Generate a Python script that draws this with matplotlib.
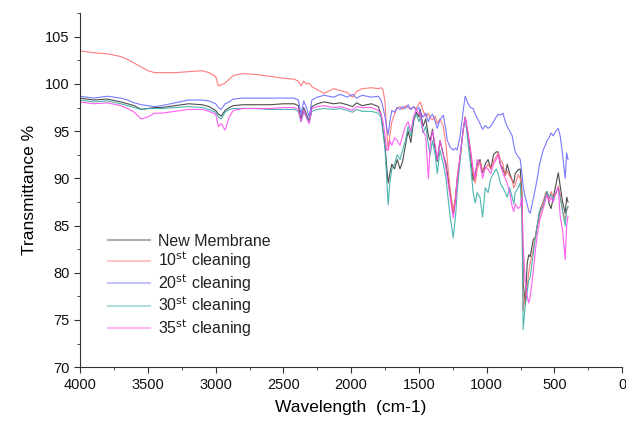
import matplotlib
matplotlib.use("Agg")
import matplotlib.pyplot as plt
from matplotlib.ticker import MultipleLocator

plt.rcParams['font.family'] = ['Liberation Sans', 'DejaVu Sans']

wavenumber = [
    4000, 3900, 3800, 3700, 3650, 3600, 3550, 3500, 3450, 3400,
    3300, 3200, 3100, 3050, 3000, 2980, 2960, 2930, 2900, 2870,
    2800, 2700, 2600, 2500, 2420, 2390, 2370, 2350, 2330, 2310,
    2290, 2250, 2200, 2130, 2080, 2030, 1990, 1960, 1920, 1850,
    1800, 1780, 1765, 1750, 1740, 1727, 1715, 1700, 1680, 1660,
    1640, 1620, 1600, 1580, 1560, 1540, 1520, 1500, 1490, 1470,
    1450, 1430, 1417, 1400, 1380, 1365, 1345, 1320, 1300, 1290,
    1270, 1247, 1230, 1218, 1196, 1175, 1159, 1140, 1120, 1100,
    1085, 1070, 1050, 1030, 1011, 990, 970, 950, 930, 915,
    900, 880, 863, 849, 830, 812, 800, 790, 768, 753,
    740, 731, 716, 701, 690, 679, 657, 640, 627, 610,
    583, 565, 554, 540, 525, 509, 490, 472, 458, 440,
    421, 410, 400]

new_membrane = [
    98.5, 98.3, 98.4, 98.1, 97.9, 97.7, 97.3, 97.4, 97.5, 97.5,
    97.7, 97.9, 97.8, 97.6, 97.2, 96.8, 96.6, 97.2, 97.5, 97.7,
    97.8, 97.8, 97.8, 97.9, 97.9, 97.7, 96.3, 97.5, 96.8, 96.0,
    97.6, 97.9, 98.1, 97.9, 98.0, 97.8, 97.6, 98.0, 97.7, 97.9,
    97.6, 96.8, 95.0, 93.5, 91.5, 89.5, 90.5, 91.5, 91.0, 92.0,
    91.0, 91.8, 93.5, 95.0, 93.8, 96.0, 97.0, 96.5, 97.3, 95.5,
    96.3, 94.5, 94.0, 95.2, 93.0, 91.8, 94.0, 92.5, 91.5, 90.5,
    88.5, 86.3, 88.0, 90.0, 92.3, 95.0, 96.5, 94.8, 92.5, 89.8,
    90.5, 91.5, 92.0, 90.6, 91.5, 92.0, 91.0, 92.5, 92.8, 92.8,
    91.5, 91.0, 90.3, 91.5, 90.5, 89.8, 89.5, 90.5, 90.9, 91.0,
    88.5, 79.0, 76.8, 81.0, 81.9, 81.7, 83.5, 83.8, 85.0, 86.5,
    87.5, 88.2, 88.6, 87.3, 86.8, 88.0, 89.3, 90.6, 89.2, 87.5,
    86.3, 88.0, 87.5]

cleaning_10 = [
    103.5, 103.3, 103.2, 102.9, 102.6, 102.2, 101.8, 101.4, 101.2, 101.2,
    101.2, 101.3, 101.4, 101.2, 100.8, 99.8, 99.9, 100.1, 100.5, 100.9,
    101.1, 101.0, 100.8, 100.6, 100.5, 100.3, 99.8, 100.3, 100.0, 100.1,
    99.7, 99.4, 99.0, 99.5, 99.3, 99.1, 98.6, 99.2, 99.5, 99.6,
    99.5, 99.6, 99.4, 98.0, 95.5, 93.0, 94.5, 96.0, 96.8, 97.5,
    97.6, 97.3, 97.7, 97.5, 97.3, 97.6, 97.4, 97.9, 98.1, 97.2,
    96.5, 96.9, 96.4, 96.2, 96.6, 95.8, 96.3, 95.5, 93.5, 91.8,
    88.8, 86.5, 88.0, 90.0, 92.3, 95.0, 96.5, 95.0, 93.0, 90.5,
    89.5, 91.0, 91.8, 90.8, 91.0, 91.5, 91.0, 91.8, 92.3, 92.7,
    92.0, 91.5, 90.3, 90.8, 90.2, 89.8, 89.0, 89.3, 90.4, 90.0,
    88.0, 76.0, 77.5, 78.5, 80.0, 81.0, 82.5, 84.0, 85.0, 86.0,
    87.5, 88.5, 88.5, 87.8, 88.6, 88.0, 88.3, 89.2, 88.4, 86.5,
    85.6, 86.5, 87.0]

cleaning_20 = [
    98.7, 98.5, 98.7, 98.5, 98.3, 98.0, 97.8, 97.7, 97.6, 97.7,
    98.0, 98.3, 98.3, 98.2, 97.9, 97.5, 97.3, 97.9, 98.1, 98.4,
    98.5, 98.5, 98.5, 98.5, 98.5, 98.3, 96.8, 98.2, 97.5, 96.5,
    98.3, 98.6, 98.8, 98.6, 98.9, 98.6, 98.9, 98.5, 98.8, 98.6,
    98.7, 98.3, 97.5, 96.5, 95.5, 94.6, 96.0, 97.2, 97.0, 97.5,
    97.3, 97.6, 97.4, 97.8, 97.3, 97.6, 97.2, 97.5, 97.0, 96.5,
    96.9, 96.0, 96.5, 96.8, 96.0, 95.3, 96.2, 96.7, 95.0, 94.0,
    93.3, 93.0, 93.2, 93.0, 94.5, 97.0, 98.7, 98.0, 97.5, 97.4,
    96.8, 96.4, 95.8, 95.2, 95.6, 95.3, 95.5, 96.0, 96.5, 96.8,
    96.7, 96.9, 96.0, 95.5, 95.0, 94.5, 93.5, 92.8, 92.3, 92.0,
    90.5, 89.1, 88.0, 87.2, 86.5, 86.3, 87.8, 89.0, 90.0, 91.5,
    93.0, 93.6, 94.0, 94.3, 94.8, 94.5, 95.0, 95.3, 94.5, 92.5,
    90.0, 92.7, 92.0]

cleaning_30 = [
    98.3, 98.1, 98.2, 97.9, 97.7, 97.5, 97.3, 97.4, 97.4, 97.4,
    97.5, 97.6, 97.5, 97.3, 97.0, 96.5, 96.3, 97.0, 97.3, 97.4,
    97.4, 97.4, 97.3, 97.3, 97.3, 97.1, 96.0, 97.0, 96.5, 95.9,
    97.1, 97.3, 97.4, 97.3, 97.4, 97.2, 97.0, 97.3, 97.1, 97.1,
    96.9, 96.5, 95.0, 93.0, 90.5, 87.2, 89.5, 91.0, 91.5, 92.5,
    92.0, 93.0, 94.0, 95.5, 94.5, 96.3, 96.8, 96.0, 96.5, 94.8,
    95.5, 93.5, 92.5, 94.0, 92.5, 90.5, 93.0, 91.5, 90.0, 88.5,
    86.0, 83.7, 86.0, 88.5, 92.0, 95.0, 96.3, 94.0, 91.5, 88.5,
    87.4, 88.5, 88.0, 85.9, 89.0, 88.5, 90.0, 90.5, 91.0, 90.5,
    89.5, 89.0, 88.5, 88.0, 89.0, 88.0, 87.3, 88.5, 89.0, 89.5,
    86.0, 74.0, 76.5, 78.0, 79.2, 79.5, 82.0, 83.8, 85.0, 86.5,
    87.0, 88.3, 88.6, 88.0, 88.3, 87.8, 88.5, 89.0, 88.0, 86.5,
    85.0, 86.8, 87.0]

cleaning_35 = [
    98.1, 97.9, 98.0, 97.7, 97.4, 97.0, 96.3, 96.5, 96.9, 96.9,
    97.1, 97.3, 97.3, 97.1, 96.8, 95.5, 95.8, 95.1, 96.5, 97.2,
    97.4, 97.4, 97.4, 97.5, 97.5, 97.3, 96.0, 97.2, 96.4, 95.8,
    97.4, 97.6, 97.7, 97.5, 97.6, 97.4, 97.2, 97.6, 97.5, 97.5,
    97.2, 96.8, 96.0, 94.5, 93.0, 93.0, 94.0, 93.5, 94.3, 94.0,
    93.5, 94.5, 95.5, 96.0, 95.0, 96.5, 97.3, 96.8, 97.0, 95.0,
    94.5, 90.0, 93.5, 95.0, 93.5, 92.0, 94.0, 92.5, 91.0, 90.0,
    88.0, 85.8, 87.5, 89.8, 92.5, 95.0, 96.4, 95.0, 93.0, 91.0,
    90.0, 92.0, 91.5, 90.0, 91.2, 91.0, 90.5, 91.5, 92.0, 92.5,
    91.5, 90.5, 90.0, 89.5, 88.5, 87.0, 86.5, 87.3, 86.8, 87.0,
    88.0, 83.0, 79.0, 77.5, 76.8, 77.5, 80.0, 82.5, 84.0, 85.5,
    86.8, 87.8, 88.3, 87.5, 88.0, 87.5, 88.5, 89.0, 86.0, 84.5,
    81.4, 85.0, 86.0]

labels = ["New Membrane", r"10$^{\mathrm{st}}$ cleaning", r"20$^{\mathrm{st}}$ cleaning",
          r"30$^{\mathrm{st}}$ cleaning", r"35$^{\mathrm{st}}$ cleaning"]
series = [new_membrane, cleaning_10, cleaning_20, cleaning_30, cleaning_35]
colors = ["#3a3a3a", "#ff6e6e", "#6a6aff", "#3aaea6", "#ff4cf0"]

fig = plt.figure(figsize=(6.26, 4.24), dpi=100)
ax = fig.add_axes([0.128, 0.134, 0.866, 0.835])

for vals, lab, col in zip(series, labels, colors):
    ax.plot(wavenumber, vals, color=col, lw=0.8, label=lab, alpha=0.9)

ax.set_xlim(4000, 0)
ax.set_ylim(70, 107.5)
ax.xaxis.set_major_locator(MultipleLocator(500))
ax.xaxis.set_minor_locator(MultipleLocator(250))
ax.yaxis.set_major_locator(MultipleLocator(5))
ax.yaxis.set_minor_locator(MultipleLocator(2.5))
ax.spines['top'].set_visible(False)
ax.spines['right'].set_visible(False)
for s in ['left', 'bottom']:
    ax.spines[s].set_color('#333333')
ax.tick_params(which='major', length=4, labelsize=10.5, colors='#333333', labelcolor='#111111')
ax.tick_params(which='minor', length=2.5, colors='#333333')
ax.set_xlabel("Wavelength  (cm-1)", fontsize=12.5, labelpad=6)
ax.set_ylabel("Transmittance %", fontsize=12.5, labelpad=6)

leg = ax.legend(loc='lower left', bbox_to_anchor=(0.025, 0.04), frameon=False,
                fontsize=11.5, handlelength=2.6, labelspacing=0.05, handletextpad=0.5)
for h in leg.get_lines():
    h.set_alpha(0.4)
    h.set_linewidth(1.5)
for t in leg.get_texts():
    t.set_color('#222222')

fig.savefig("out.png", dpi=100)
